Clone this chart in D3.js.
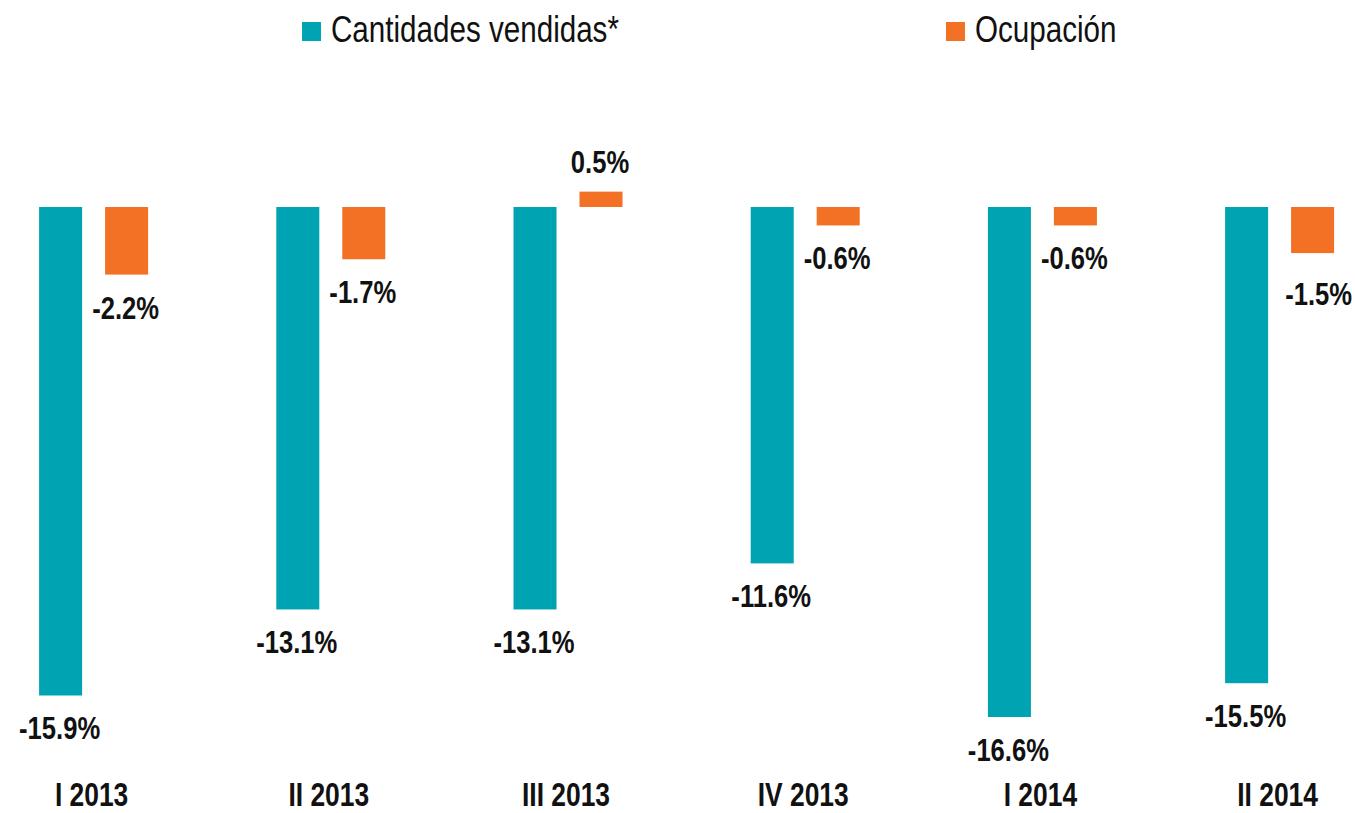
<!DOCTYPE html>
<html><head><meta charset="utf-8">
<script src="https://cdn.jsdelivr.net/npm/d3@7"></script>
<style>
html,body{margin:0;padding:0;background:#fff;}
text{font-family:"Liberation Sans",Arial,sans-serif;}
</style></head>
<body>
<svg id="c" width="1355" height="813"></svg>
<script>
const categories = ["I 2013","II 2013","III 2013","IV 2013","I 2014","II 2014"];
const seriesNames = ["Cantidades vendidas*","Ocupación"];
const cantidades = [-15.9,-13.1,-13.1,-11.6,-16.6,-15.5];
const ocupacion = [-2.2,-1.7,0.5,-0.6,-0.6,-1.5];
const colors = ["#00a3b1","#f37124"];
const SX = 0.8; // horizontal condensing to mimic a narrow typeface

const svg = d3.select("#c");
const y = d3.scaleLinear().domain([0,-16.6]).range([207,717]);
const x0 = d3.scaleBand().domain(categories).range([-25, -25+6*237.2]);
const x1 = d3.scaleBand().domain(seriesNames).range([0,109]).paddingInner(0.348);

const data = categories.map((c,i)=>({cat:c, i, vals:[cantidades[i], ocupacion[i]]}));
const fmt = v => (v < 0 ? "-" : "") + Math.abs(v).toFixed(1) + "%";

const groups = svg.selectAll("g.grp").data(data).join("g")
  .attr("transform", d => `translate(${x0(d.cat) + (x0.bandwidth()-109)/2},0)`);

const items = d => d.vals.map((v,j)=>({v, s:seriesNames[j], j, i:d.i}));

groups.selectAll("rect").data(items).join("rect")
  .attr("x", d => x1(d.s))
  .attr("width", x1.bandwidth())
  .attr("y", d => Math.min(y(d.v), y(0)))
  .attr("height", d => Math.abs(y(d.v)-y(0)))
  .attr("fill", d => colors[d.j]);

// the last orange label sits a little lower and to the right in the original
const nudge = d => (d.j === 1 && d.i === categories.length - 1) ? [7, 8] : [0, 0];

groups.selectAll("text.val").data(items).join("text")
  .attr("class","val")
  .attr("transform", d => {
    const [dx, dy] = nudge(d);
    const tx = x1(d.s) + x1.bandwidth()/2 - 1 + dx;
    const ty = (d.v < 0 ? y(d.v) + 44 : y(d.v) - 19) + dy;
    return `translate(${tx},${ty}) scale(${SX},1)`;
  })
  .attr("text-anchor","middle")
  .attr("font-size", 32).attr("font-weight","bold").attr("fill","#111")
  .text(d => fmt(d.v));

svg.selectAll("text.cat").data(categories).join("text")
  .attr("class","cat")
  .attr("transform", d => `translate(${x0(d) + x0.bandwidth()/2 - 2},806) scale(${SX},1)`)
  .attr("text-anchor","middle")
  .attr("font-size", 33).attr("font-weight","bold").attr("fill","#111")
  .text(d => d);

const legX = [302, 946];
const leg = svg.selectAll("g.leg").data(seriesNames).join("g")
  .attr("transform", (d,i)=>`translate(${legX[i]},22)`);
leg.append("rect").attr("width",19).attr("height",19).attr("fill",(d,i)=>colors[i]);
leg.append("text").attr("transform",`translate(29,20) scale(${SX},1)`)
  .attr("font-size",37).attr("fill","#111").text(d=>d);
</script>
</body></html>
